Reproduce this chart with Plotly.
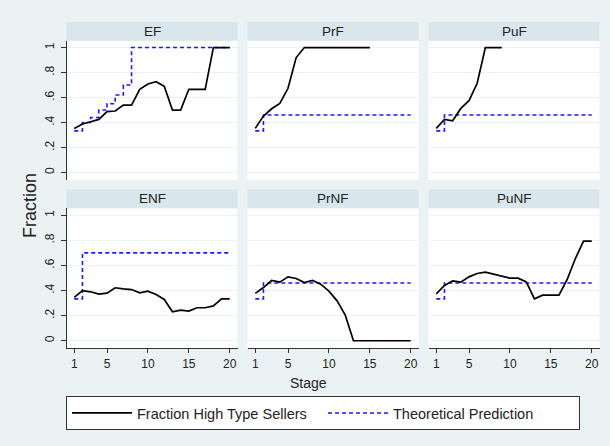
import plotly.graph_objects as go

W, H = 610, 446

stages = list(range(1, 21))
panel_names = ["EF", "PrF", "PuF", "ENF", "PrNF", "PuNF"]

EF_actual = [0.353, 0.388, 0.406, 0.425, 0.487, 0.492, 0.54, 0.54, 0.666, 0.709,
             0.727, 0.69, 0.5, 0.5, 0.666, 0.666, 0.666, 1, 1, 1]
PrF_actual = [0.353, 0.452, 0.51, 0.553, 0.674, 0.92, 1, 1, 1, 1, 1, 1, 1, 1, 1]
PuF_actual = [0.353, 0.425, 0.414, 0.513, 0.575, 0.714, 1, 1, 1]
ENF_actual = [0.345, 0.40, 0.39, 0.371, 0.379, 0.422, 0.414, 0.408, 0.382, 0.395,
              0.369, 0.329, 0.231, 0.244, 0.236, 0.263, 0.263, 0.278, 0.334, 0.334]
PrNF_actual = [0.377, 0.424, 0.48, 0.467, 0.509, 0.496, 0.464, 0.48, 0.451, 0.395,
               0.318, 0.204, 0, 0, 0, 0, 0, 0, 0, 0]
PuNF_actual = [0.374, 0.44, 0.477, 0.467, 0.509, 0.536, 0.546, 0.53, 0.517, 0.499,
               0.499, 0.469, 0.334, 0.363, 0.363, 0.363, 0.488, 0.655, 0.793, 0.793]

EF_pred = [1/3, 0.4, 0.44, 0.5, 0.55, 0.62, 0.7] + [1] * 13
PrF_pred = [1/3] + [0.46] * 19
PuF_pred = [1/3] + [0.46] * 19
ENF_pred = [1/3] + [0.7] * 19
PrNF_pred = [1/3] + [0.46] * 19
PuNF_pred = [1/3] + [0.46] * 19

actuals = [EF_actual, PrF_actual, PuF_actual, ENF_actual, PrNF_actual, PuNF_actual]
preds = [EF_pred, PrF_pred, PuF_pred, ENF_pred, PrNF_pred, PuNF_pred]

y_ticks = [0, 0.2, 0.4, 0.6, 0.8, 1]
y_ticktext = ["0", ".2", ".4", ".6", ".8", "1"]
x_ticks = [1, 5, 10, 15, 20]

FONT = "Liberation Sans, Arial, Helvetica, sans-serif"
BG = "#eaf2f3"
STRIP = "#d9e6eb"
AX = "#333333"

# pixel geometry
cols_px = [(66.5, 237.5), (247.5, 418.5), (428.5, 599.5)]
rows_px = [(40.7, 180.0), (208.3, 348.3)]   # plot areas (top, bottom)
strip_h = 18.8

def px_x(x):
    return x / W

def px_y(y):
    return (H - y) / H

fig = go.Figure()
layout = dict(
    width=W, height=H,
    margin=dict(l=0, r=0, t=0, b=0),
    paper_bgcolor=BG, plot_bgcolor="white",
    font=dict(family=FONT, color="#222222", size=12),
    showlegend=True,
)
shapes = []
annotations = []

for i, name in enumerate(panel_names):
    r, c = divmod(i, 3)
    xa = "x" if i == 0 else f"x{i+1}"
    ya = "y" if i == 0 else f"y{i+1}"
    xkey = "xaxis" if i == 0 else f"xaxis{i+1}"
    ykey = "yaxis" if i == 0 else f"yaxis{i+1}"
    x0, x1 = cols_px[c]
    top, bot = rows_px[r]

    fig.add_trace(go.Scatter(
        x=stages[:len(preds[i])], y=preds[i], mode="lines", line_shape="hv",
        line=dict(color="#1a1aff", width=1.6, dash="4px,3px"),
        name="Theoretical Prediction", legendrank=2,
        showlegend=(i == 0), xaxis=xa, yaxis=ya, hoverinfo="skip"))
    fig.add_trace(go.Scatter(
        x=stages[:len(actuals[i])], y=actuals[i], mode="lines",
        line=dict(color="black", width=1.7),
        name="Fraction High Type Sellers", legendrank=1,
        showlegend=(i == 0), xaxis=xa, yaxis=ya, hoverinfo="skip"))

    bottom_row = (r == 1)
    left_col = (c == 0)
    layout[xkey] = dict(
        domain=[px_x(x0), px_x(x1)], anchor=ya, range=[0.05, 20.95],
        tickvals=x_ticks, showgrid=False, zeroline=False,
        showline=bottom_row, linecolor=AX, linewidth=1,
        ticks="outside" if bottom_row else "", ticklen=4, tickcolor=AX,
        showticklabels=bottom_row, tickfont=dict(size=12, color="#222222"),
    )
    layout[ykey] = dict(
        domain=[px_y(bot), px_y(top)], anchor=xa, range=[-0.06, 1.055],
        tickvals=y_ticks, ticktext=y_ticktext, tickangle=-90,
        showgrid=True, gridcolor=BG, gridwidth=1, zeroline=False,
        showline=left_col, linecolor=AX, linewidth=1,
        ticks="outside" if left_col else "", ticklen=5, tickcolor=AX,
        ticklabelstandoff=2,
        showticklabels=left_col, tickfont=dict(size=12, color="#222222"),
    )
    # header strip
    shapes.append(dict(type="rect", xref="paper", yref="paper",
                       x0=px_x(x0), x1=px_x(x1), y0=px_y(top), y1=px_y(top - strip_h),
                       fillcolor=STRIP, line=dict(width=0), layer="below"))
    annotations.append(dict(text=name, xref="paper", yref="paper",
                            x=px_x((x0 + x1) / 2), y=px_y(top - strip_h / 2),
                            xanchor="center", yanchor="middle", showarrow=False,
                            font=dict(size=13.5, color="#222222")))

annotations.append(dict(text="Fraction", xref="paper", yref="paper",
                        x=px_x(30), y=px_y(206), textangle=-90,
                        xanchor="center", yanchor="middle", showarrow=False,
                        font=dict(size=18, color="#222222")))
annotations.append(dict(text="Stage", xref="paper", yref="paper",
                        x=px_x(308.5), y=px_y(382.5),
                        xanchor="center", yanchor="middle", showarrow=False,
                        font=dict(size=14, color="#222222")))

layout["shapes"] = shapes
layout["annotations"] = annotations
layout["legend"] = dict(
    orientation="h", x=px_x(66), y=px_y(396), xanchor="left", yanchor="top",
    bgcolor="white", bordercolor=AX, borderwidth=1,
    font=dict(size=14.5, color="#222222"),
    itemwidth=60, entrywidth=181, entrywidthmode="pixels",
    traceorder="normal",
)
fig.update_layout(**layout)
fig.write_html("out.html",
               config={"displayModeBar": False},
               post_script="document.body.style.margin='0';document.body.style.padding='0';")
